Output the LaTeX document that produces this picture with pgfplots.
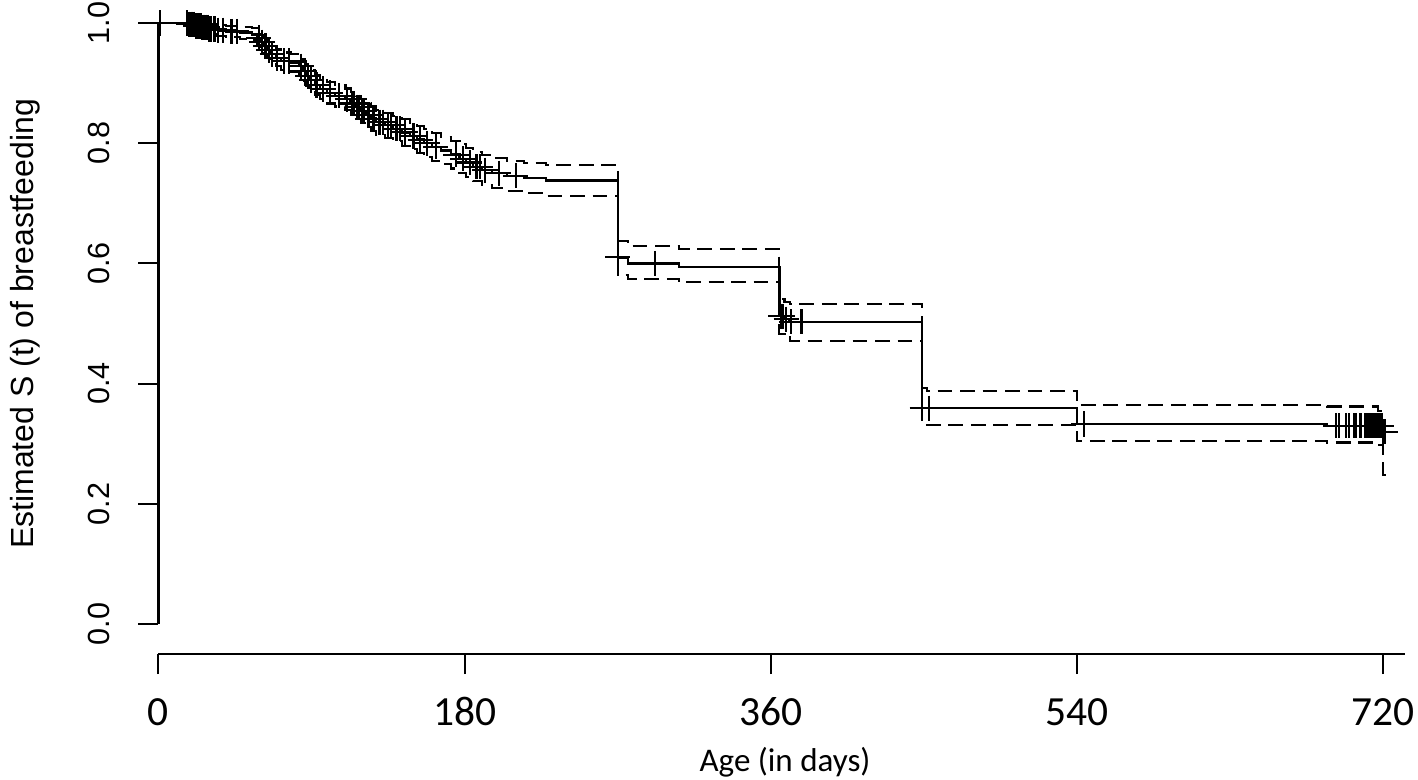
\documentclass[border=0pt]{standalone}
\usepackage{pgfplots}
\usepackage{pgfplotstable}
\pgfplotsset{compat=1.18}
\usepackage{fontspec}
\setmainfont{Liberation Sans}
\newfontfamily\calfont{Carlito}

\pgfplotstableread{
t s up lo
0 1.000 1.000 1.000
18 0.998 1.000 0.994
22 0.995 1.000 0.990
26 0.993 1.000 0.987
30 0.990 0.999 0.982
34 0.988 0.997 0.979
40 0.986 0.995 0.977
48 0.984 0.994 0.974
55 0.981 0.991 0.971
58 0.975 0.986 0.964
60 0.968 0.980 0.956
62 0.962 0.975 0.949
64 0.955 0.968 0.942
66 0.948 0.962 0.934
69 0.942 0.956 0.928
72 0.937 0.951 0.922
78 0.933 0.948 0.918
83 0.928 0.943 0.913
85 0.920 0.936 0.904
87 0.912 0.928 0.896
89 0.905 0.921 0.889
92 0.897 0.914 0.880
95 0.890 0.907 0.873
99 0.884 0.902 0.866
104 0.879 0.897 0.861
110 0.873 0.891 0.855
113 0.866 0.885 0.847
116 0.860 0.879 0.841
119 0.854 0.874 0.834
122 0.847 0.867 0.827
125 0.841 0.861 0.821
128 0.835 0.856 0.814
133 0.830 0.851 0.809
138 0.824 0.845 0.803
143 0.818 0.840 0.796
148 0.812 0.834 0.790
152 0.806 0.828 0.784
156 0.800 0.823 0.777
161 0.794 0.817 0.771
166 0.788 0.811 0.765
172 0.781 0.804 0.758
177 0.774 0.798 0.750
181 0.768 0.792 0.744
185 0.761 0.786 0.737
190 0.755 0.780 0.730
196 0.750 0.775 0.725
205 0.746 0.771 0.721
215 0.742 0.767 0.717
228 0.738 0.764 0.712
270 0.610 0.638 0.580
276 0.600 0.629 0.5735
306 0.594 0.6245 0.5685
365 0.512 0.541 0.483
368 0.507 0.536 0.478
371 0.503 0.532 0.471
449 0.359 0.392 0.331
452 0.359 0.388 0.331
540 0.333 0.3644 0.3045
687 0.330 0.362 0.302
717 0.330 0.355 0.298
720 0.320 0.352 0.248
722 0.320 0.352 0.248
}\kmdata

\pgfplotstableread{
t s
1 1.000
17 1.000
18 0.998
19 0.998
20 0.998
21 0.998
22 0.995
23 0.995
24 0.995
25 0.995
26 0.993
27 0.993
28 0.993
29 0.993
30 0.990
31 0.990
33 0.990
35 0.988
38 0.988
43 0.986
46 0.986
59 0.975
61 0.968
63 0.962
65 0.955
67 0.948
70 0.942
74 0.937
77 0.937
84 0.928
86 0.920
88 0.912
90 0.905
93 0.897
97 0.890
101 0.884
106 0.879
111 0.873
114 0.866
115 0.866
117 0.860
118 0.860
120 0.854
121 0.854
123 0.847
124 0.847
126 0.841
127 0.841
130 0.835
132 0.835
135 0.830
137 0.830
140 0.824
142 0.824
145 0.818
150 0.812
154 0.806
158 0.800
163 0.794
175 0.781
179 0.774
183 0.768
187 0.761
189 0.761
192 0.755
200 0.750
210 0.746
270 0.610
292 0.600
366 0.512
367 0.512
369 0.507
372 0.503
378 0.503
449 0.359
453 0.359
544 0.333
692 0.330
694 0.330
698 0.330
700 0.330
703 0.330
704 0.330
706 0.330
707 0.330
709 0.330
710 0.330
711 0.330
712 0.330
713 0.330
714 0.330
715 0.330
716 0.330
717 0.330
718 0.330
719 0.330
720 0.320
721 0.320
}\censdata

\begin{document}
\begin{tikzpicture}
\begin{axis}[
  name=ax,
  scale only axis,
  width=124.67mm, height=65.4mm,
  xmin=0, xmax=732.7, ymin=-0.0499, ymax=1.0383,
  axis x line*=bottom, axis y line*=left,
  x axis line style={line width=0.8pt, -},
  y axis line style={draw=none},
  xtick={0,180,360,540,720},
  xticklabels={0,180,360,540,720},
  ytick={0,0.2,0.4,0.6,0.8,1.0},
  yticklabels={0.0,0.2,0.4,0.6,0.8,1.0},
  tick align=outside,
  major tick length=2mm,
  tick style={black, line width=0.6pt},
  xticklabel style={font=\calfont\fontsize{11.8}{13}\selectfont, anchor=base, inner sep=0pt, yshift=-5.1mm},
  yticklabel style={font=\fontsize{8.7}{10}\selectfont, xshift=-2.8mm, rotate=90, anchor=south, inner sep=0pt},
  xlabel={Age (in days)},
  xlabel style={font=\calfont\fontsize{9.4}{11}\selectfont, at={(axis description cs:0.5027,0)}, anchor=base, yshift=-11.7mm, inner sep=0pt},
  ylabel={Estimated S (t) of breastfeeding},
  ylabel style={font=\fontsize{9.1}{11}\selectfont, at={(axis description cs:-0.1005,0.5046)}, anchor=base, inner sep=0pt},
  clip=false,
]
\draw[line width=0.7pt] (axis cs:0,0) -- (axis cs:0,1);
\addplot[const plot, black, line width=0.6pt, dash pattern=on 4.2pt off 2.2pt] table[x=t, y=up] {\kmdata};
\addplot[const plot, black, line width=0.6pt, dash pattern=on 4.2pt off 2.2pt] table[x=t, y=lo] {\kmdata};
\addplot[const plot, black, line width=0.65pt] table[x=t, y=s] {\kmdata};
\addplot[only marks, mark=+, mark size=3.6pt, black, mark options={line width=0.6pt}] table[x=t, y=s] {\censdata};
\end{axis}
\pgfresetboundingbox
\path ([shift={(-15.83mm,-12.5mm)}]ax.south west) rectangle ([shift={(1.3mm,0mm)}]ax.north east);
\end{tikzpicture}
\end{document}
